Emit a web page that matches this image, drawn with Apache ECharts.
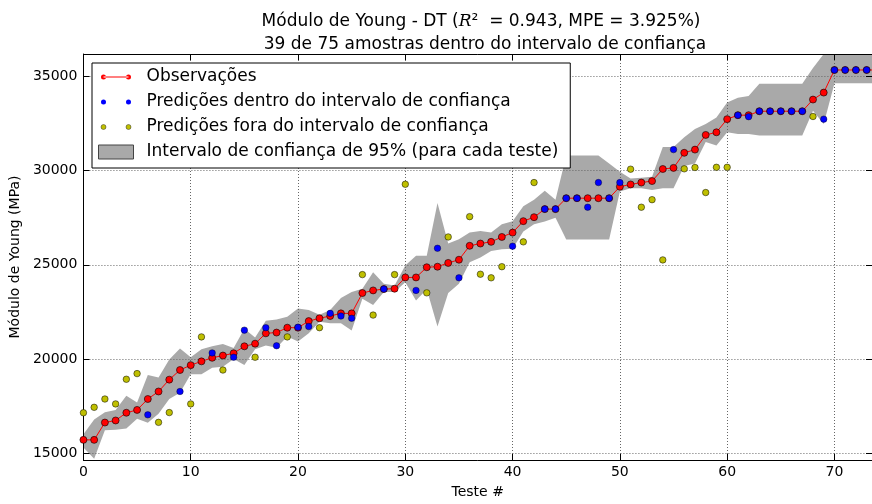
<!DOCTYPE html>
<html>
<head>
<meta charset="utf-8">
<title>Módulo de Young - DT</title>
<script src="https://cdn.jsdelivr.net/npm/echarts@6/dist/echarts.min.js"></script>
<style>
  html, body { margin: 0; padding: 0; background: #fff; }
  #chart { width: 872px; height: 504px; }
</style>
</head>
<body>
<div id="chart"></div>
<script>
// valores observados (MPa), um por teste 0..74
const observacoes = [
  15700, 15700, 16620, 16730, 17140, 17290, 17870, 18270, 18900, 19410,
  19670, 19870, 20060, 20180, 20300, 20670, 20810, 21360, 21400, 21660,
  21660, 22010, 22160, 22280, 22420, 22420, 23500, 23640, 23710, 23730,
  24330, 24330, 24870, 24900, 25100, 25270, 26010, 26130, 26220, 26480,
  26710, 27320, 27530, 27960, 27960, 28540, 28540, 28540, 28540, 28540,
  29150, 29270, 29370, 29450, 30090, 30150, 30950, 31120, 31900, 32040,
  32740, 32950, 32950, 33160, 33160, 33160, 33160, 33160, 33780, 34150,
  35350, 35350, 35350, 35350, 35350,
];

const predicoes = [
  17140, 17430, 17870, 17610, 18920, 19220, 17030, 16630, 17150, 18270,
  17610, 21170, 20320, 19410, 20090, 21530, 20090, 21660, 20700, 21170,
  21680, 21720, 21660, 22420, 22280, 22160, 24480, 22330, 23710, 24480,
  29280, 23640, 23510, 25880, 26480, 24310, 27560, 24500, 24310, 24900,
  25990, 26220, 29370, 27960, 27960, 28540, 28540, 28060, 29370, 28540,
  29370, 30080, 28060, 28460, 25260, 31120, 30100, 30170, 28840, 30180,
  30180, 32950, 32870, 33160, 33160, 33160, 33160, 33160, 32880, 32740,
  35350, 35350, 35350, 35350, 35350,
];

// 1 = predição dentro do intervalo de confiança
const dentro = [
  0, 0, 0, 0, 0, 0, 1, 0, 0, 1,
  0, 0, 1, 0, 1, 1, 0, 1, 1, 0,
  1, 1, 0, 1, 1, 1, 0, 0, 1, 0,
  0, 1, 0, 1, 0, 1, 0, 0, 0, 0,
  1, 0, 0, 1, 1, 1, 1, 1, 1, 1,
  1, 0, 0, 0, 0, 1, 0, 0, 0, 0,
  0, 1, 1, 1, 1, 1, 1, 1, 0, 1,
  1, 1, 1, 1, 1,
];

const limiteInf = [
  15300, 14690, 16210, 16240, 16300, 16820, 16610, 17090, 17870, 18200,
  19180, 19180, 19530, 19580, 20000, 19680, 20510, 20710, 20600, 21190,
  20930, 21370, 21980, 21900, 21900, 21510, 23200, 22860, 23560, 23560,
  24080, 23100, 23700, 21720, 23500, 23990, 25130, 25390, 25740, 25830,
  25850, 26770, 27150, 27300, 27500, 26350, 26350, 26350, 26350, 26350,
  28900, 29070, 29070, 28980, 29070, 29070, 30250, 30380, 31520, 31340,
  32040, 31950, 31950, 31870, 31870, 31870, 31870, 31870, 33180, 32480,
  34650, 34650, 34650, 34650, 34650,
];

const limiteSup = [
  16000, 16780, 17170, 17290, 18040, 17690, 19150, 19010, 19970, 20550,
  20090, 20510, 20670, 20790, 20580, 21600, 21140, 22030, 22100, 22240,
  22680, 22600, 22350, 22600, 23240, 23560, 23730, 24610, 23990, 23900,
  24960, 25480, 25480, 28280, 26130, 26360, 26710, 26790, 26710, 27150,
  27320, 28110, 28460, 28930, 28460, 30810, 30810, 30810, 30810, 30380,
  29950, 29590, 29630, 29680, 31260, 31260, 31780, 32220, 32480, 32830,
  33620, 33880, 33970, 34620, 34620, 34620, 34620, 34620, 35460, 36300,
  36400, 36400, 36400, 36400, 36400,
];

const nomeObs = 'Observações';
const nomeDentro = 'Predições dentro do intervalo de confiança';
const nomeFora = 'Predições fora do intervalo de confiança';
const nomeIC = 'Intervalo de confiança de 95% (para cada teste)';

const fonte = 'DejaVu Sans';
const cinza = '#a9a9a9';

const serieObs = observacoes.map((v, i) => [i, v]);
const serieDentro = [];
const serieFora = [];
predicoes.forEach((v, i) => {
  if (dentro[i]) {
    serieDentro.push([i, v]);
  } else {
    serieFora.push([i, v]);
  }
});
const serieIC = limiteInf.map((v, i) => [i, v, limiteSup[i]]);

// icones da legenda (caixa 35x14)
const iconePontos = 'path://M0,0M35,14M2.5,7a2.5,2.5 0 1,0 5,0a2.5,2.5 0 1,0 -5,0'
  + 'M27.5,7a2.5,2.5 0 1,0 5,0a2.5,2.5 0 1,0 -5,0';
const iconeLinha = iconePontos + 'M5,6.5L30,6.5L30,7.5L5,7.5Z';

// faixa do intervalo: um unico poligono (superior ida, inferior volta)
function desenhaFaixa(params, api) {
  if (params.dataIndex !== 0) return null;
  const pts = [];
  for (let i = 0; i < limiteSup.length; i += 1) pts.push(api.coord([i, limiteSup[i]]));
  for (let i = limiteInf.length - 1; i >= 0; i -= 1) pts.push(api.coord([i, limiteInf[i]]));
  const cs = params.coordSys;
  return {
    type: 'polygon',
    shape: {
      points: echarts.graphic.clipPointsByRect(pts, {
        x: cs.x, y: cs.y, width: cs.width, height: cs.height,
      }),
    },
    style: { fill: cinza },
  };
}

const eixoX = {
  type: 'value',
  min: 0,
  max: 73.5,
  interval: 10,
  axisLine: { show: true, onZero: false, lineStyle: { color: '#000', width: 1 } },
  axisTick: { show: true, inside: true, length: 6, lineStyle: { color: '#000' } },
};

const eixoY = {
  type: 'value',
  min: 14630,
  max: 36200,
  splitNumber: 4,
  axisLine: { show: true, onZero: false, lineStyle: { color: '#000', width: 1 } },
  axisTick: { show: true, inside: true, length: 6, lineStyle: { color: '#000' } },
};

const grade = { show: true, lineStyle: { color: '#666', width: 1, type: [1, 2] } };

const chart = echarts.init(document.getElementById('chart'), null, { renderer: 'canvas' });

chart.setOption({
  animation: false,
  backgroundColor: '#fff',
  title: [{
    text: '{a|Módulo de Young - DT (}{r|R}{a|²  = 0.943, MPE = 3.925%)}',
    left: 476,
    top: 8,
    textAlign: 'center',
    textStyle: {
      fontWeight: 'normal',
      rich: {
        a: { fontFamily: fonte, fontSize: 17, fontWeight: 'normal', color: '#000' },
        r: {
          fontFamily: 'DejaVu Serif', fontStyle: 'italic', fontWeight: 'normal', fontSize: 17, color: '#000',
        },
      },
    },
  }, {
    text: '39 de 75 amostras dentro do intervalo de confiança',
    left: 480,
    top: 31,
    textAlign: 'center',
    textStyle: { fontFamily: fonte, fontSize: 17, fontWeight: 'normal', color: '#000' },
  }],
  grid: {
    left: 83,
    top: 54,
    width: 792,
    height: 411,
    containLabel: false,
  },
  legend: {
    orient: 'vertical',
    left: 92,
    top: 63,
    padding: [5, 12, 7, 6],
    backgroundColor: '#fff',
    borderColor: '#000',
    borderWidth: 1,
    borderRadius: 0,
    itemWidth: 35,
    itemHeight: 14,
    itemGap: 7,
    selectedMode: false,
    textStyle: { fontFamily: fonte, fontSize: 17, color: '#000', lineHeight: 18, padding: [0, 0, 0, 8] },
    data: [
      { name: nomeObs, icon: iconeLinha, itemStyle: { color: '#ff0000', borderWidth: 0 } },
      { name: nomeDentro, icon: iconePontos, itemStyle: { color: '#0000ff', borderWidth: 0 } },
      { name: nomeFora, icon: iconePontos, itemStyle: { color: '#bfbf00', borderColor: '#333', borderWidth: 0.5 } },
      { name: nomeIC, icon: 'rect', itemStyle: { color: cinza, borderColor: '#444', borderWidth: 1 } },
    ],
  },
  xAxis: [
    {
      ...eixoX,
      position: 'bottom',
      name: 'Teste #',
      nameLocation: 'middle',
      nameGap: 25,
      nameTextStyle: { fontFamily: fonte, fontSize: 14, color: '#000' },
      axisLabel: { color: '#000', fontFamily: fonte, fontSize: 14, margin: 5, showMaxLabel: false },
      splitLine: grade,
    },
    {
      ...eixoX,
      position: 'top',
      axisLabel: { show: false },
      splitLine: { show: false },
    },
  ],
  yAxis: [
    {
      ...eixoY,
      position: 'left',
      name: 'Módulo de Young (MPa)',
      nameLocation: 'middle',
      nameGap: 52,
      nameTextStyle: { fontFamily: fonte, fontSize: 14, color: '#000' },
      axisLabel: {
        color: '#000',
        fontFamily: fonte,
        fontSize: 14,
        margin: 6,
        showMinLabel: false,
        showMaxLabel: false,
        formatter: (v) => String(v),
      },
      splitLine: grade,
    },
    {
      ...eixoY,
      position: 'right',
      axisLabel: { show: false },
      splitLine: { show: false },
    },
  ],
  series: [
    {
      name: nomeIC,
      type: 'custom',
      data: serieIC,
      encode: { x: 0, y: [1, 2] },
      renderItem: desenhaFaixa,
      itemStyle: { color: cinza },
      silent: true,
      z: -1,
    },
    {
      name: nomeObs,
      type: 'line',
      data: serieObs,
      symbol: 'circle',
      symbolSize: 7,
      showAllSymbol: true,
      lineStyle: { color: '#ff0000', width: 1 },
      itemStyle: { color: '#ff0000', borderColor: '#000', borderWidth: 0.6 },
      z: 3,
    },
    {
      name: nomeDentro,
      type: 'scatter',
      data: serieDentro,
      symbolSize: 6.5,
      itemStyle: { color: '#0000ff', borderColor: '#000', borderWidth: 0.4, opacity: 1 },
      z: 4,
    },
    {
      name: nomeFora,
      type: 'scatter',
      data: serieFora,
      symbolSize: 6.5,
      itemStyle: { color: '#bfbf00', borderColor: '#000', borderWidth: 0.5, opacity: 1 },
      z: 4,
    },
  ],
});
</script>
</body>
</html>
